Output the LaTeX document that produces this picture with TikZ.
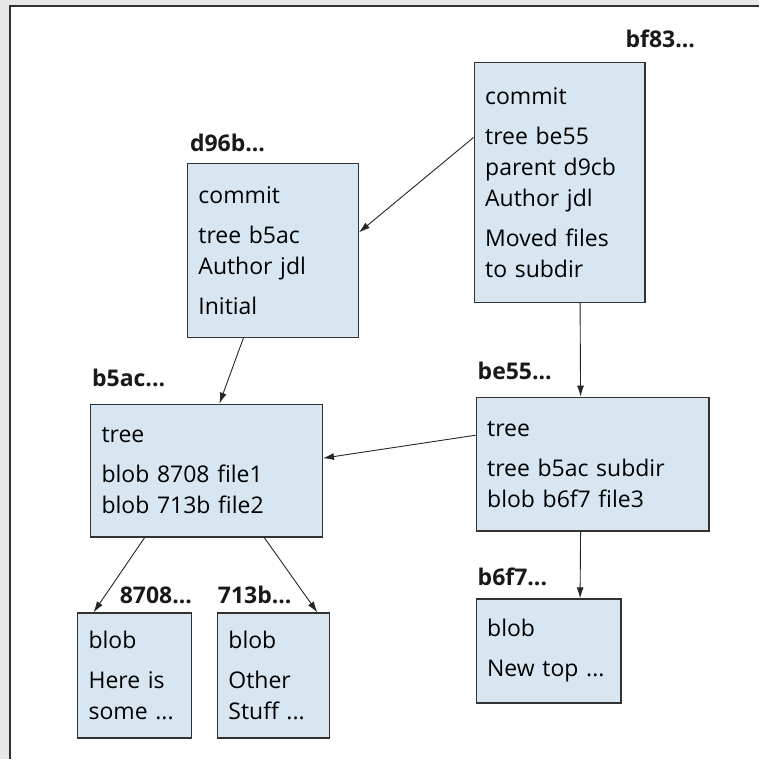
\documentclass[tikz,border=0pt]{standalone}
\usepackage{fontspec}
\usepackage{tikz}
\usetikzlibrary{arrows.meta,positioning}
\newfontfamily\gitfont{Open Sans}
\definecolor{objfill}  {RGB}{215,230,240}
\definecolor{objline}  {RGB}{ 50, 50, 50}
\definecolor{pagegray} {RGB}{230,231,232}
\tikzset{
  obj/.style={draw=objline,fill=objfill,line width=1.3pt,anchor=north west,
              align=left,inner xsep=11pt,inner ysep=0pt,
              font=\gitfont\fontsize{23}{31}\selectfont},
  hash/.style={inner sep=0pt,text=black!90,
               font=\gitfont\bfseries\fontsize{23}{31}\selectfont},
  arr/.style={-{Latex[length=11pt,width=7pt]},line width=0.9pt,color=black!85},
}

\begin{document}
\begin{tikzpicture}[x=1pt,y=1pt]
  \fill[pagegray] (0,0) rectangle (760,760);
  \fill[white] (10,0) rectangle (760,754);
  \draw[line width=1.5pt,objline] (10,0) -- (10,754) -- (760,754);
  \useasboundingbox (0,0) rectangle (760,760);

  \node[obj,text width=149pt,minimum height=240pt](bf83) at (474,698)
    {commit\\[9pt]tree be55\\parent d9cb\\Author jdl\\[9pt]Moved files\\to subdir};
  \node[obj,text width=149pt,minimum height=174pt](d96b) at (187,597)
    {commit\\[9pt]tree b5ac\\Author jdl\\[9pt]Initial};
  \node[obj,text width=210pt,minimum height=133pt](b5ac) at (90,356)
    {tree\\[9pt]blob 8708 file1\\blob 713b file2};
  \node[obj,text width=211pt,minimum height=134pt](be55) at (476,363)
    {tree\\[9pt]tree b5ac subdir\\blob b6f7 file3};
  \node[obj,text width=123pt,minimum height=104pt](b6f7) at (476,161)
    {blob\\[9pt]New top ...};
  \node[obj,text width=92pt,minimum height=125pt](n8708) at (77,147)
    {blob\\[9pt]Here is\\some ...};
  \node[obj,text width=90pt,minimum height=125pt](n713b) at (217,147)
    {blob\\[9pt]Other\\Stuff ...};

  \node[hash,above right=14pt and 152pt of bf83.north west](hbf83){bf83...};
  \node[hash,above right=11pt and 3pt of d96b.north west](hd96b){d96b...};
  \node[hash,above right=17pt and 2pt of b5ac.north west](hb5ac){b5ac...};
  \node[hash,above right=17pt and 2pt of be55.north west](hbe55){be55...};
  \node[hash,above right=12pt and 2pt of b6f7.north west](hb6f7){b6f7...};
  \node[hash,above left=8pt and 0pt of n8708.north east](h8708){8708...};
  \node[hash,above right=8pt and 1pt of n713b.north west](h713b){713b...};

  \draw[arr]([yshift=45pt]bf83.west) -- ([yshift=18pt]d96b.east);
  \draw[arr]([xshift=20.5pt]bf83.south) -- ([xshift=-12pt]be55.north);
  \draw[arr]([xshift=-29.5pt]d96b.south) -- ([xshift=13pt]b5ac.north);
  \draw[arr]([yshift=29pt]be55.west) -- ([yshift=12.5pt]b5ac.east);
  \draw[arr]([xshift=-12pt]be55.south) -- ([xshift=31.5pt]b6f7.north);
  \draw[arr]([xshift=-62pt]b5ac.south) -- ([xshift=-41pt]n8708.north);
  \draw[arr]([xshift=58pt]b5ac.south) -- ([xshift=44pt]n713b.north);
\end{tikzpicture}
\end{document}
